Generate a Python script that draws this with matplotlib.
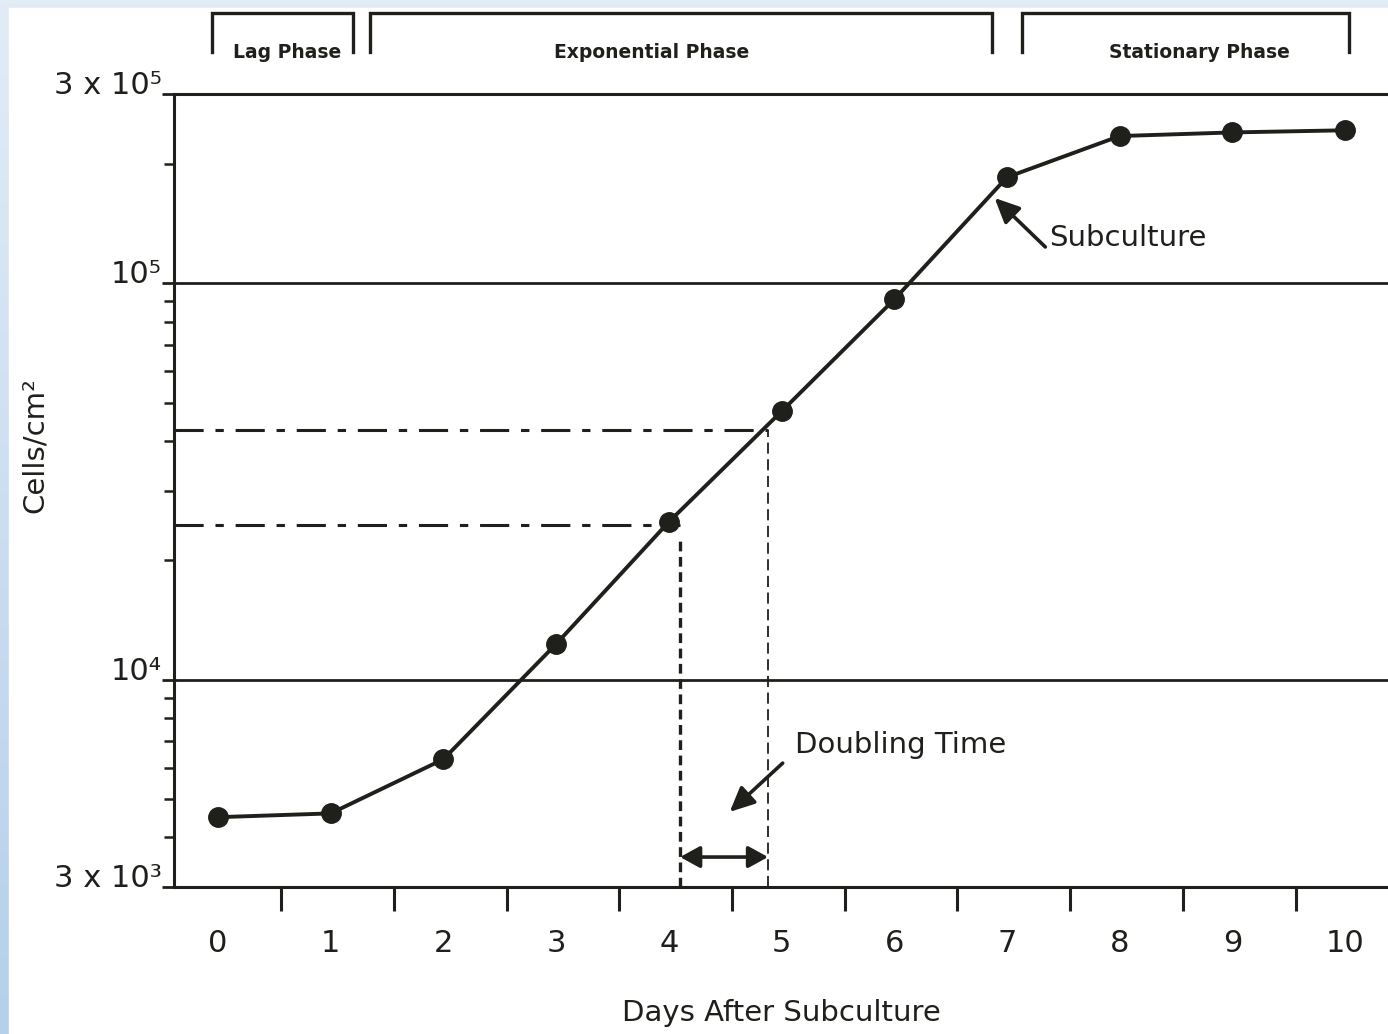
import matplotlib
matplotlib.use("Agg")
import matplotlib.pyplot as plt
import numpy as np
from matplotlib.colors import LinearSegmentedColormap
from matplotlib.patches import Rectangle
from matplotlib.ticker import NullFormatter, LogLocator

plt.rcParams["font.family"] = ["DejaVu Sans"]
plt.rcParams["lines.scale_dashes"] = False

# Wachstumskurve (Tage nach Subkultur, Zellen/cm^2)
days = [0, 1, 2, 3, 4, 5, 6, 7, 8, 9, 10]
cells = [4.5e3, 4.6e3, 6.3e3, 1.23e4, 2.5e4, 4.75e4, 9.1e4, 1.85e5, 2.35e5, 2.4e5, 2.43e5]

# Verdopplungszeit: Zeitpunkte und Zellzahlen
doubling_days = [4.1, 4.88]
doubling_cells = [2.46e4, 4.26e4]

# Phasen oben
phase_names = ["Lag Phase", "Exponential Phase", "Stationary Phase"]
phase_start = [-0.05, 1.35, 7.13]
phase_end = [1.2, 6.87, 10.03]
phase_label_x = [0.61, 3.85, 8.71]

y_ticks = [3e3, 1e4, 1e5, 3e5]
y_tick_labels = ["3 x 10³", "10⁴", "10⁵", "3 x 10⁵"]

ink = "#1f1f1b"

fig = plt.figure(figsize=(13.88, 10.34), dpi=100)

# Hintergrund mit blauem Rand
bg = fig.add_axes([0, 0, 1, 1], zorder=-10)
cmap = LinearSegmentedColormap.from_list("rand", ["#e2ecf7", "#b4d0ec"])
bg.imshow(np.linspace(0, 1, 256).reshape(-1, 1), aspect="auto", cmap=cmap,
          extent=[0, 1, 0, 1])
bg.add_patch(Rectangle((9 / 1388, 0), 1, 1 - 8 / 1034, color="white"))
bg.set_xlim(0, 1)
bg.set_ylim(0, 1)
bg.axis("off")

ax = fig.add_axes([174 / 1388, 1 - 887 / 1034, 1 - 174 / 1388, (887 - 94) / 1034])
ax.set_yscale("log")
ax.set_xlim(-0.39, 10.38)
ax.set_ylim(3e3, 3e5)

for s in ["left", "top", "bottom"]:
    ax.spines[s].set_linewidth(2.2)
    ax.spines[s].set_color(ink)
ax.spines["right"].set_visible(False)

# Gitterlinien bei 10^4 und 10^5
for g in [1e4, 1e5]:
    ax.axhline(g, color=ink, lw=2.0, zorder=1)

# Kurve
ax.plot(days, cells, "-o", color=ink, lw=2.8, markersize=14, zorder=5)

# Verdopplungszeit Hilfslinien
ax.plot([ax.get_xlim()[0], doubling_days[0]], [doubling_cells[0]] * 2,
        color=ink, lw=2.2, linestyle=(0, (21, 8.5, 6, 8.5)), zorder=2)
ax.plot([ax.get_xlim()[0], doubling_days[1]], [doubling_cells[1]] * 2,
        color=ink, lw=2.2, linestyle=(0, (21, 8.5, 6, 8.5)), zorder=2)
ax.plot([doubling_days[0]] * 2, [3e3, doubling_cells[0] * 0.93],
        color=ink, lw=2.4, linestyle=(0, (7, 4)), zorder=2)
ax.plot([doubling_days[1]] * 2, [3e3, doubling_cells[1]],
        color=ink, lw=1.3, linestyle=(0, (8, 4)), zorder=2)

head = dict(color=ink, lw=2.6, mutation_scale=20, shrinkA=0, shrinkB=0)
ax.annotate("", xy=(doubling_days[0], 3.57e3), xytext=(doubling_days[1], 3.57e3),
            arrowprops=dict(arrowstyle="<|-|>,head_length=0.6,head_width=0.33", **head))

ax.annotate("", xy=(4.54, 4.64e3), xytext=(5.01, 6.16e3),
            arrowprops=dict(arrowstyle="-|>,head_length=0.75,head_width=0.35", **head))
ax.text(5.12, 6.84e3, "Doubling Time", fontsize=21, color=ink, ha="left", va="center")

ax.annotate("", xy=(6.89, 1.64e5), xytext=(7.34, 1.234e5),
            arrowprops=dict(arrowstyle="-|>,head_length=0.75,head_width=0.35", **head))
ax.text(7.37, 1.30e5, "Subculture", fontsize=21, color=ink, ha="left", va="center")

# Phasen-Klammern
tr = ax.get_xaxis_transform()
for name, a, b, tx in zip(phase_names, phase_start, phase_end, phase_label_x):
    ax.plot([a, a, b, b], [1.053, 1.102, 1.102, 1.053], color=ink, lw=2.4,
            transform=tr, clip_on=False, solid_joinstyle="miter")
    ax.text(tx, 1.052, name, transform=tr, ha="center", va="center",
            fontsize=13.5, fontweight="bold", color=ink)

# x-Achse: Striche zwischen den Tagen, Beschriftung bei den Tagen
ax.set_xticks([d + 0.56 for d in days[:-1]])
ax.set_xticklabels([])
ax.set_xticks(days, [str(d) for d in days], minor=True)
ax.tick_params(axis="x", which="major", length=17, width=2.2, direction="out", color=ink)
ax.tick_params(axis="x", which="minor", length=0, pad=30, labelsize=22, labelcolor=ink)

# y-Achse
ax.yaxis.set_minor_locator(LogLocator(base=10, subs=np.arange(2, 10)))
ax.yaxis.set_minor_formatter(NullFormatter())
ax.set_yticks(y_ticks, y_tick_labels)
ax.tick_params(axis="y", which="major", length=9, width=2.0, direction="out",
               pad=0, labelsize=22, labelcolor=ink, color=ink)
ax.tick_params(axis="y", which="minor", length=7, width=1.8, direction="out", color=ink)
for lab in ax.get_yticklabels():
    lab.set_verticalalignment("baseline")

ax.set_xlabel("Days After Subculture", fontsize=21, color=ink, labelpad=30)
fig.text(35 / 1388, 1 - 445 / 1034, "Cells/cm²", rotation=90, fontsize=21,
         color=ink, ha="center", va="center")

fig.savefig("out.png", dpi=100)
